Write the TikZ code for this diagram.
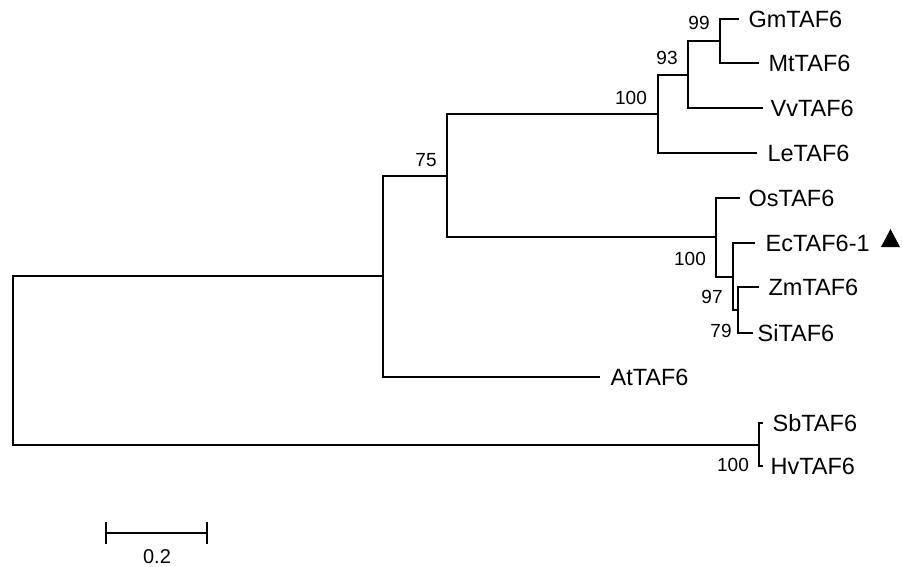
\documentclass[tikz,border=0pt]{standalone}
\usepackage{fontspec}
\setmainfont{Liberation Sans}
\begin{document}
\begin{tikzpicture}[x=1pt,y=-1pt,line width=1.2pt,
  leaf/.style={anchor=west,inner sep=0pt,font=\fontsize{23.5}{27}\selectfont,text height=16.8pt,text depth=0pt},
  boot/.style={inner sep=0pt,font=\fontsize{19}{23}\selectfont,text height=13.6pt,text depth=0pt},
  scalelab/.style={inner sep=0pt,font=\fontsize{20}{24}\selectfont,text height=14.3pt,text depth=0pt},
  branch/.style={draw=black,line width=1.2pt}]
\useasboundingbox (0,0) rectangle (902,567);
% internal nodes
\coordinate (R) at (13,360);
\coordinate (A) at (383,276);
\coordinate (B) at (447,176);
\coordinate (C) at (658,114);
\coordinate (E) at (688,75);
\coordinate (F) at (720,41);
\coordinate (D) at (716,237);
\coordinate (G) at (733,277);
\coordinate (H) at (738,310);
\coordinate (I) at (759,445);
% leaf tips
\coordinate (gm) at (739,19);
\coordinate (mt) at (759,63);
\coordinate (vv) at (763,108);
\coordinate (le) at (757,153);
\coordinate (os) at (740,198);
\coordinate (ec) at (755,243);
\coordinate (zm) at (759,287);
\coordinate (si) at (753,333);
\coordinate (at) at (600,377);
\coordinate (sb) at (763,423);
\coordinate (hv) at (763,466);
% branches
\draw[branch] (R) |- (A);
\draw[branch] (R) |- (I);
\draw[branch] (A) |- (B);
\draw[branch] (A) |- (at);
\draw[branch] (B) |- (C);
\draw[branch] (B) |- (D);
\draw[branch] (C) |- (E);
\draw[branch] (C) |- (le);
\draw[branch] (E) |- (F);
\draw[branch] (E) |- (vv);
\draw[branch] (F) |- (gm);
\draw[branch] (F) |- (mt);
\draw[branch] (D) |- (os);
\draw[branch] (D) |- (G);
\draw[branch] (G) |- (ec);
\draw[branch] (G) |- (H);
\draw[branch] (H) |- (zm);
\draw[branch] (H) |- (si);
\draw[branch] (I) |- (sb);
\draw[branch] (I) |- (hv);
% leaf labels
\node[leaf] (gmT) at ([xshift=9]gm) {GmTAF6};
\node[leaf] (mtT) at ([xshift=9]mt) {MtTAF6};
\node[leaf] (vvT) at ([xshift=7]vv) {VvTAF6};
\node[leaf] (leT) at ([xshift=10]le) {LeTAF6};
\node[leaf] (osT) at ([xshift=8]os) {OsTAF6};
\node[leaf] (ecT) at ([xshift=10]ec) {EcTAF6-1};
\node[leaf] (zmT) at ([xshift=9]zm) {ZmTAF6};
\node[leaf] (siT) at ([xshift=4]si) {SiTAF6};
\node[leaf] (atT) at ([xshift=10]at) {AtTAF6};
\node[leaf] (sbT) at ([xshift=9]sb) {SbTAF6};
\node[leaf] (hvT) at ([xshift=7]hv) {HvTAF6};
% marker
\fill (881,247) -- (900,247) -- (890.5,229) -- cycle;
% bootstrap values
\node[boot] (bA) at (426,160) {75};
\node[boot] (bC) at (631,98) {100};
\node[boot] (bE) at (667,58) {93};
\node[boot] (bF) at (699,23) {99};
\node[boot] (bD) at (690,259) {100};
\node[boot] (bG) at (712,297) {97};
\node[boot] (bH) at (721,331) {79};
\node[boot] (bI) at (733,465) {100};
% scale bar
\coordinate (s1) at (106,533);
\coordinate (s2) at (207,533);
\draw[branch] (s1) -- (s2);
\draw[branch] ([yshift=-11]s1) -- ([yshift=11]s1);
\draw[branch] ([yshift=-11]s2) -- ([yshift=11]s2);
\node[scalelab] (sl) at (157,556) {0.2};
\end{tikzpicture}
\end{document}
